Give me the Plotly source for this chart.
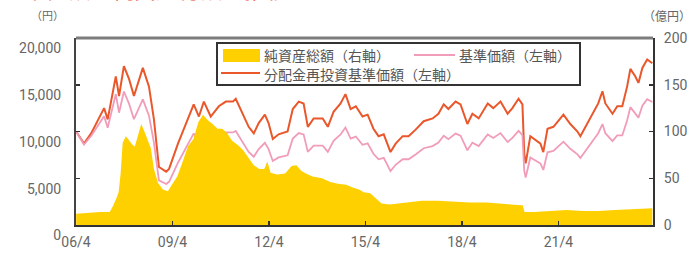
import plotly.graph_objects as go

# ---------------- data ----------------
price_dates = [
    "2006-04-03", "2006-07-01", "2006-09-20", "2007-02-14", "2007-03-27", "2007-06-27", "2007-08-03",
    "2007-09-27", "2007-11-25", "2008-01-19", "2008-04-29", "2008-07-08", "2008-09-02", "2008-10-29",
    "2009-01-19", "2009-02-21", "2009-06-02", "2009-09-23", "2009-11-28", "2010-01-26", "2010-03-23",
    "2010-06-09", "2010-09-09", "2010-11-28", "2011-02-17", "2011-03-20", "2011-06-09", "2011-08-14",
    "2011-10-11", "2011-12-06", "2012-02-14", "2012-03-27", "2012-05-14", "2012-07-19", "2012-10-29",
    "2012-12-27", "2013-03-05", "2013-04-29", "2013-06-16", "2013-08-21", "2013-12-02", "2014-01-29",
    "2014-04-04", "2014-06-23", "2014-08-17", "2014-10-15", "2014-12-13", "2015-02-27", "2015-04-26",
    "2015-07-01", "2015-08-28", "2015-10-26", "2016-01-11", "2016-03-09", "2016-05-28", "2016-08-03",
    "2016-10-22", "2017-01-22", "2017-05-03", "2017-07-08", "2017-09-06", "2017-10-29", "2018-01-19",
    "2018-03-16", "2018-06-02", "2018-07-29", "2018-10-08", "2019-01-19", "2019-03-23", "2019-06-13",
    "2019-09-02", "2019-10-26", "2020-01-04", "2020-02-17", "2020-03-09", "2020-03-25", "2020-05-17",
    "2020-07-15", "2020-09-09", "2020-10-11", "2020-11-28", "2021-02-03", "2021-04-01", "2021-05-28",
    "2021-08-14", "2021-11-03", "2021-12-06", "2022-02-25", "2022-05-03", "2022-06-27", "2022-08-14",
    "2022-09-16", "2022-12-06", "2023-01-29", "2023-03-27", "2023-05-21", "2023-06-27", "2023-08-21",
    "2023-09-27", "2023-11-10", "2024-01-04", "2024-03-02",
]

# 分配金再投資基準価額 (円)
reinvested_nav = [
    10000, 8700, 9800, 12500, 11300, 15900, 13800,
    17000, 15600, 13800, 16800, 14800, 11300, 6200,
    5700, 6000, 8700, 11300, 12900, 11600, 13200,
    11600, 12700, 13200, 13200, 13500, 11900, 10500,
    9800, 10900, 11800, 10900, 9200, 9700, 10000,
    12400, 13200, 13000, 10500, 11400, 11400, 10500,
    12100, 13000, 14000, 12400, 12700, 11600, 11800,
    10300, 9500, 9700, 7800, 8700, 9500, 9500,
    10200, 11100, 11400, 11900, 12900, 12400, 13200,
    12900, 10800, 11900, 11400, 13000, 12500, 13200,
    11900, 12500, 13500, 12900, 7600, 6600, 9500,
    9100, 8700, 7800, 10300, 10500, 11100, 11800,
    10800, 10000, 9500, 10900, 11900, 13000, 14300,
    13000, 11900, 12700, 12700, 14800, 16700, 15900,
    15200, 16800, 17700, 17300,
]

# 基準価額 (円)
base_nav = [
    10000, 8610, 9510, 11630, 10400, 13990, 12010,
    14280, 12950, 11320, 13440, 11690, 8810, 4770,
    4390, 4620, 6660, 8590, 9800, 8760, 9970,
    8700, 9530, 9900, 9900, 10060, 8870, 7820,
    7300, 8120, 8790, 8120, 6850, 7230, 7450,
    9240, 9830, 9690, 7820, 8490, 8490, 7820,
    9010, 9690, 10430, 9240, 9460, 8580, 8730,
    7620, 7030, 7180, 5770, 6440, 7030, 7030,
    7550, 8210, 8440, 8810, 9550, 9180, 9770,
    9550, 7990, 8810, 8440, 9690, 9310, 9830,
    8870, 9310, 10060, 9610, 5780, 5080, 7220,
    6870, 6570, 5890, 7780, 7930, 8380, 8910,
    8150, 7550, 7170, 8230, 8980, 9820, 10800,
    9820, 8980, 9590, 9590, 11170, 12610, 12000,
    11480, 12770, 13450, 13150,
]

asset_dates = [
    "2006-04-03", "2006-08-07", "2007-01-01", "2007-04-19", "2007-05-25", "2007-07-01", "2007-07-29",
    "2007-08-21", "2007-09-13", "2007-10-19", "2007-11-25", "2008-01-01", "2008-01-29", "2008-03-13",
    "2008-04-11", "2008-05-17", "2008-06-23", "2008-07-29", "2008-09-02", "2008-10-19", "2008-12-13",
    "2009-02-07", "2009-04-01", "2009-05-25", "2009-07-19", "2009-09-23", "2009-11-25", "2010-01-19",
    "2010-03-13", "2010-05-07", "2010-07-01", "2010-08-25", "2010-10-19", "2010-12-13", "2011-02-07",
    "2011-04-19", "2011-06-13", "2011-08-07", "2011-10-11", "2011-12-13", "2012-02-07", "2012-03-13",
    "2012-04-19", "2012-07-01", "2012-10-01", "2012-12-13", "2013-02-07", "2013-04-01", "2013-05-25",
    "2013-08-07", "2013-11-25", "2014-02-25", "2014-05-25", "2014-08-25", "2014-11-07", "2015-01-19",
    "2015-03-13", "2015-05-25", "2015-08-07", "2015-10-01", "2016-01-01", "2016-07-01", "2017-01-01",
    "2017-07-01", "2018-01-01", "2018-07-01", "2019-01-01", "2019-07-01", "2020-01-01", "2020-02-20",
    "2020-03-12", "2020-07-01", "2021-01-01", "2021-07-01", "2022-01-01", "2022-07-01", "2023-01-01",
    "2023-07-01", "2023-10-19", "2024-03-02",
]

# 純資産総額 (億円)
net_assets = [
    12, 13, 14, 14, 20, 28, 35,
    55, 88, 95, 90, 86, 84, 100,
    108, 100, 90, 82, 60, 45, 38,
    36, 44, 52, 66, 84, 92, 110,
    118, 112, 108, 103, 103, 98, 90,
    85, 80, 72, 64, 60, 60, 68,
    56, 54, 55, 63, 64, 58, 55,
    52, 50, 46, 44, 43, 40, 38,
    35, 34, 28, 23, 22, 24, 26,
    26, 25, 24, 24, 23, 22, 21,
    14, 14, 15, 16, 15, 15, 16,
    17, 18, 18,
]

tick_dates = ["2006-04-01", "2009-04-01", "2012-04-01", "2015-04-01", "2018-04-01", "2021-04-01"]
tick_labels = ["06/4", "09/4", "12/4", "15/4", "18/4", "21/4"]
left_ticks = [0, 5000, 10000, 15000, 20000]
right_ticks = [0, 50, 100, 150, 200]

legend_names = ["純資産総額（右軸）", "基準価額（左軸）", "分配金再投資基準価額（左軸）"]
title_text = "基準価額・純資産総額の推移"

# ---------------- styles ----------------
YELLOW = "#FFD000"
PINK = "#F19CB8"
ORANGE = "#E9572B"
TICK_COLOR = "#666666"
NUM_FONT = "Roboto"
JP_FONT = "Noto Sans CJK JP"

fig = go.Figure()

fig.add_trace(go.Scatter(
    x=asset_dates, y=net_assets, yaxis="y2", mode="lines",
    line=dict(width=0, color=YELLOW), fill="tozeroy", fillcolor=YELLOW,
    name=legend_names[0], showlegend=False, hoverinfo="skip",
))
fig.add_trace(go.Scatter(
    x=price_dates, y=reinvested_nav, mode="lines",
    line=dict(width=2, color=ORANGE), name=legend_names[2], showlegend=False,
))
fig.add_trace(go.Scatter(
    x=price_dates, y=base_nav, mode="lines",
    line=dict(width=1.8, color=PINK), name=legend_names[1], showlegend=False,
))

# plot area in pixels: left 76, right 653, top 38, bottom 225
L, R, T, B = 76, 653, 38, 225
PW, PH = R - L, B - T


def px(x):
    return (x - L) / PW


def py(y):
    return (B - y) / PH


shapes = [
    # heavy top border
    dict(type="line", xref="paper", yref="paper", x0=0, x1=1, y0=1, y1=1,
         line=dict(color="#7d7d7d", width=3), layer="above"),
    # legend box
    dict(type="rect", xref="paper", yref="paper", x0=px(217), x1=px(580), y0=py(85), y1=py(43),
         line=dict(color="#333333", width=2), fillcolor="white", layer="above"),
    dict(type="rect", xref="paper", yref="paper", x0=px(223), x1=px(260), y0=py(62), y1=py(49),
         line=dict(width=0), fillcolor=YELLOW, layer="above"),
    dict(type="line", xref="paper", yref="paper", x0=px(414), x1=px(455), y0=py(55), y1=py(55),
         line=dict(color=PINK, width=1.8), layer="above"),
    dict(type="line", xref="paper", yref="paper", x0=px(221), x1=px(260), y0=py(73), y1=py(73),
         line=dict(color=ORANGE, width=2), layer="above"),
]

legend_font = dict(family=JP_FONT, size=14, color="#555555")
annotations = [
    dict(text=legend_names[0], xref="paper", yref="paper", x=px(262), y=py(55),
         xanchor="left", yanchor="middle", showarrow=False, font=legend_font),
    dict(text=legend_names[1], xref="paper", yref="paper", x=px(457), y=py(55),
         xanchor="left", yanchor="middle", showarrow=False, font=legend_font),
    dict(text=legend_names[2], xref="paper", yref="paper", x=px(262), y=py(74),
         xanchor="left", yanchor="middle", showarrow=False, font=legend_font),
    dict(text="（円）", xref="paper", yref="paper", x=px(47), y=py(15),
         xanchor="center", yanchor="middle", showarrow=False,
         font=dict(family=JP_FONT, size=11, color=TICK_COLOR)),
    dict(text="（億円）", xref="paper", yref="paper", x=px(667), y=py(16),
         xanchor="center", yanchor="middle", showarrow=False,
         font=dict(family=JP_FONT, size=12, color=TICK_COLOR)),
    dict(text=title_text, xref="paper", yref="paper", x=px(0), y=py(6),
         xanchor="left", yanchor="bottom", showarrow=False,
         font=dict(family=JP_FONT, size=22, color="#E8452C")),
]

axis_common = dict(
    showgrid=False, zeroline=False, automargin=False,
    ticks="inside", ticklen=4, tickcolor="#333333", tickwidth=1.5,
    tickfont=dict(family=NUM_FONT, size=14, color=TICK_COLOR),
)

fig.update_layout(
    width=691, height=255,
    margin=dict(l=L, r=691 - R, t=T, b=255 - B, pad=0, autoexpand=False),
    paper_bgcolor="white", plot_bgcolor="white",
    showlegend=False, hovermode=False,
    shapes=shapes, annotations=annotations,
    xaxis=dict(
        type="date", range=["2006-04-01", "2024-03-10"],
        tickvals=tick_dates, ticktext=tick_labels,
        showline=True, linecolor="#333333", linewidth=2,
        ticklabelstandoff=3, **axis_common,
    ),
    yaxis=dict(
        range=[0, 20000], tickvals=left_ticks, tickformat=",d",
        showline=True, linecolor="#444444", linewidth=2,
        ticklabelposition="outside bottom", ticklabelstandoff=10, **axis_common,
    ),
    yaxis2=dict(
        range=[0, 200], tickvals=right_ticks, overlaying="y", side="right",
        showline=True, linecolor="#333333", linewidth=2,
        ticklabelstandoff=6, **axis_common,
    ),
)

fig.write_html(
    "out.html",
    config={"displayModeBar": False, "staticPlot": True},
    post_script="document.body.style.margin='0px';document.body.style.overflow='hidden';",
)
